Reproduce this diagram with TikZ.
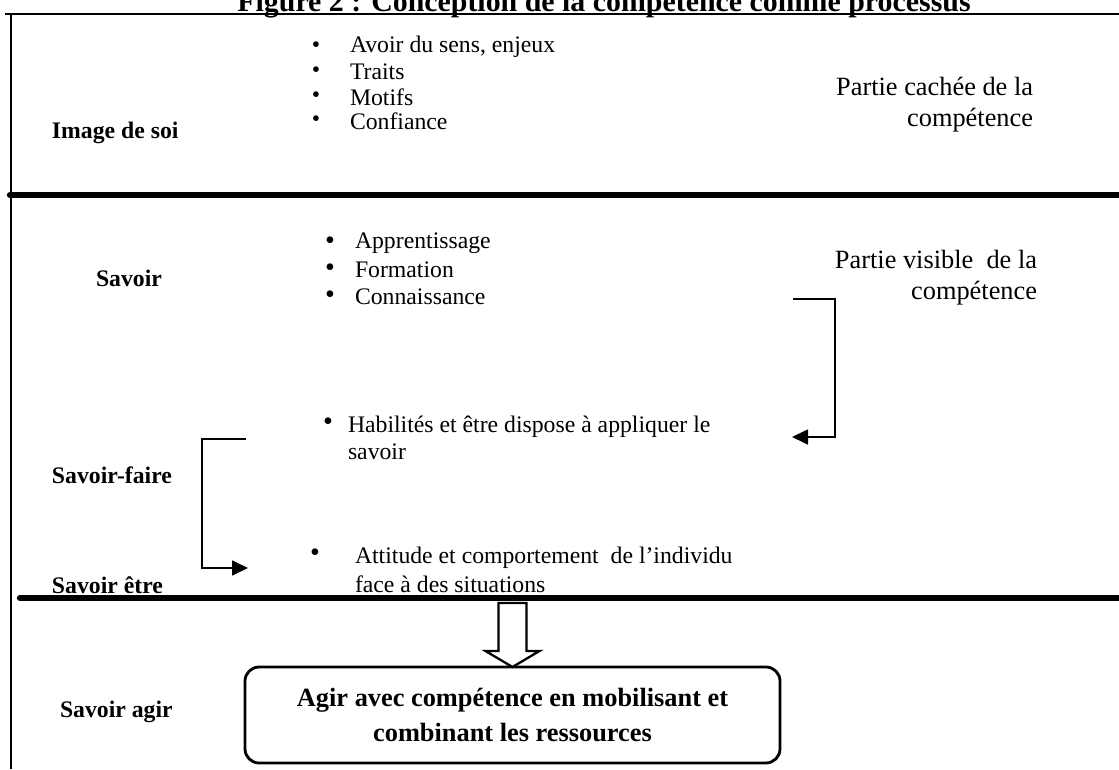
\documentclass[tikz,border=0pt]{standalone}
\usepackage{fontspec}
\setmainfont{Liberation Serif}
\usetikzlibrary{arrows.meta}

\begin{document}
\begin{tikzpicture}[
  x=1cm,y=1cm,
  every node/.style={inner sep=0pt,outer sep=0pt},
  lbl/.style={anchor=west,font=\bfseries\fontsize{13.5}{16}\selectfont},
  item/.style={anchor=west,align=left,font=\fontsize{13.5}{15.5}\selectfont},
  dot/.style={font=\fontsize{13.5}{13.5}\selectfont},
  bigdot/.style={font=\fontsize{16}{16}\selectfont},
  note/.style={anchor=east,align=right,font=\fontsize{15}{17.6}\selectfont},
  rule/.style={line width=3.6pt,line cap=round},
  frame/.style={line width=1.6pt},
  link/.style={-{Triangle[length=3.2mm,width=3mm]},line width=1pt},
  result/.style={draw,rounded corners=8pt,line width=1.6pt,minimum width=10.7cm,minimum height=1.92cm,
    align=center,font=\bfseries\fontsize{15}{20}\selectfont}
]
\path[use as bounding box] (0,0) rectangle (22.38,15.38);
\node[anchor=base,font=\bfseries\fontsize{17}{20}\selectfont] (title) at (12.08,15.15)
  {Figure 2 : Conception de la compétence comme processus};
% frame and separators
\draw[frame] (0.1,15.1) -- (22.38,15.1);
\draw[frame] (0.22,15.1) -- (0.22,0);
\draw[rule] (0.2,11.48) -- (22.38,11.48);
\draw[rule] (0.4,3.42) -- (22.38,3.42);
% image de soi
\node[lbl] (soi) at (1.04,12.72) {Image de soi};
\node[dot] at (6.32,14.44) {\textbullet};
\node[dot] at (6.32,13.94) {\textbullet};
\node[dot] at (6.32,13.44) {\textbullet};
\node[dot] at (6.32,12.96) {\textbullet};
\node[item] (sens) at (7.0,14.44) {Avoir du sens, enjeux};
\node[item] (traits) at (7.0,13.94) {Traits};
\node[item] (motifs) at (7.0,13.44) {Motifs};
\node[item] (conf) at (7.0,12.96) {Confiance};
\node[note] (cachee) at (20.66,13.29) {Partie cachée de la\\compétence};
% savoir
\node[lbl] (savoir) at (1.92,9.82) {Savoir};
\node[bigdot] at (6.6,10.52) {\textbullet};
\node[bigdot] at (6.6,9.98) {\textbullet};
\node[bigdot] at (6.6,9.44) {\textbullet};
\node[item] (appr) at (7.1,10.52) {Apprentissage};
\node[item] (form) at (7.1,9.98) {Formation};
\node[item] (conn) at (7.1,9.44) {Connaissance};
\node[note] (visible) at (20.74,9.83) {Partie visible\ \ de la\\compétence};
% savoir-faire
\node[lbl] (faire) at (1.04,5.88) {Savoir-faire};
\node[bigdot] at (6.56,6.9) {\textbullet};
\node[item] (hab) at (6.96,6.63) {Habilités et être dispose à appliquer le\\savoir};
\coordinate (visout) at (15.86,9.4);
\coordinate (habin) at (15.84,6.64);
\draw[link] (visout) -- ++(0.84,0) |- (habin);
% savoir etre
\node[lbl] (etre) at (1.04,3.68) {Savoir être};
\node[bigdot] at (6.3,4.28) {\textbullet};
\node[item,font=\fontsize{13.5}{16.5}\selectfont] (att) at (7.1,3.99)
  {Attitude et comportement\ \ de l’individu\\face à des situations};
\coordinate (faireout) at (4.92,6.6);
\coordinate (attin) at (4.96,4.02);
\draw[link] (faireout) -- (4.04,6.6) |- (attin);
% savoir agir
\node[lbl] (agir) at (1.2,1.14) {Savoir agir};
\node[result] (res) at (10.25,1.08)
  {Agir avec compétence en mobilisant et\\combinant les ressources};
\draw[line width=1.3pt,fill=white] (res.north)
  -- ++(-0.54,0.32) -- ++(0.26,0) -- ++(0,0.96) -- ++(0.56,0) -- ++(0,-0.96) -- ++(0.26,0) -- cycle;
\end{tikzpicture}
\end{document}
